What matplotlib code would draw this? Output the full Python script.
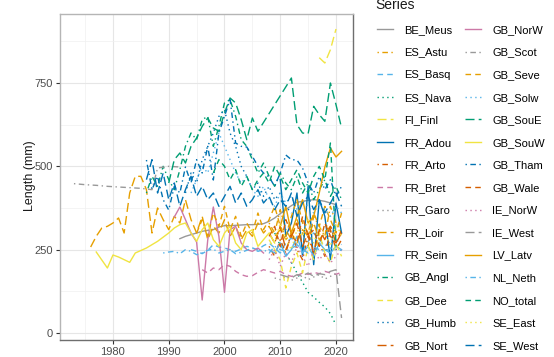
import matplotlib
matplotlib.use('Agg')
import matplotlib.pyplot as plt
from matplotlib.ticker import MultipleLocator

plt.rcParams['font.family'] = ['Liberation Sans', 'DejaVu Sans']

# ---------------- data ----------------
series_names = ['BE_Meus', 'ES_Astu', 'ES_Basq', 'ES_Nava', 'FI_Finl', 'FR_Adou', 'FR_Arto',
                'FR_Bret', 'FR_Garo', 'FR_Loir', 'FR_Sein', 'GB_Angl', 'GB_Dee', 'GB_Humb',
                'GB_Nort', 'GB_NorW', 'GB_Scot', 'GB_Seve', 'GB_Solw', 'GB_SouE', 'GB_SouW',
                'GB_Tham', 'GB_Wale', 'IE_NorW', 'IE_West', 'LV_Latv', 'NL_Neth', 'NO_total',
                'SE_East', 'SE_West']

BE_Meus_years = list(range(1992, 2021))
BE_Meus = [283, 290, 295, 300, 305, 308, 310, 318, 322, 322, 323, 324, 325, 325, 326, 328,
           335, 345, 358, 370, 382, 392, 395, 398, 400, 398, 395, 390, 385]

ES_Astu_years = list(range(2008, 2022))
ES_Astu = [330, 300, 370, 310, 280, 340, 300, 260, 350, 320, 290, 380, 330, 300]

ES_Basq_years = list(range(1994, 2022))
ES_Basq = [250, 245, 238, 248, 265, 258, 255, 250, 245, 252, 260, 255, 250, 262, 270, 255,
           240, 270, 285, 265, 250, 275, 300, 280, 260, 275, 280, 265]

ES_Nava_years = list(range(2009, 2021))
ES_Nava = [300, 262, 238, 212, 180, 152, 122, 108, 92, 78, 58, 24]

FI_Finl_years = [2017, 2018, 2019, 2020]
FI_Finl = [826, 810, 850, 912]

FR_Adou_years = list(range(2010, 2022))
FR_Adou = [460, 290, 330, 420, 230, 440, 205, 400, 350, 220, 390, 300]

FR_Arto_years = list(range(2008, 2022))
FR_Arto = [260, 230, 280, 240, 300, 250, 220, 290, 240, 270, 230, 310, 250, 280]

FR_Bret_years = list(range(1996, 2022))
FR_Bret = [190, 180, 195, 190, 205, 200, 185, 175, 170, 172, 182, 190, 185, 180, 185, 175,
           170, 172, 180, 176, 182, 178, 185, 180, 176, 182]

FR_Garo_years = list(range(2009, 2022))
FR_Garo = [165, 160, 170, 158, 165, 172, 160, 168, 175, 162, 170, 178, 172]

FR_Loir_years = list(range(1976, 2021))
FR_Loir = [258, 290, 315, 320, 330, 345, 300, 420, 470, 470, 430, 300, 375, 340, 310, 350,
           330, 400, 340, 300, 350, 280, 320, 300, 340, 290, 320, 280, 310, 290, 330, 300,
           320, 290, 310, 280, 300, 270, 310, 290, 330, 280, 300, 320, 290]

FR_Sein_years = list(range(2008, 2022))
FR_Sein = [250, 240, 270, 230, 250, 290, 240, 260, 230, 270, 250, 240, 260, 250]

GB_Angl_years = list(range(1986, 2022))
GB_Angl = [420, 470, 440, 500, 460, 430, 490, 560, 600, 580, 640, 650, 560, 620, 690, 700,
           650, 580, 560, 520, 480, 510, 470, 440, 480, 450, 430, 470, 420, 450, 400, 430,
           460, 410, 440, 400]

GB_Dee_years = list(range(2008, 2022))
GB_Dee = [280, 250, 220, 135, 200, 240, 180, 260, 220, 300, 240, 210, 270, 230]

GB_Humb_years = list(range(1993, 2013))
GB_Humb = [420, 480, 450, 520, 560, 600, 650, 670, 600, 560, 500, 470, 430, 450, 410, 440,
           400, 420, 380, 360]

GB_Nort_years = list(range(2008, 2022))
GB_Nort = [300, 270, 320, 250, 290, 330, 260, 300, 240, 310, 280, 320, 270, 300]

GB_NorW_years = list(range(1991, 2008))
GB_NorW = [348, 378, 340, 300, 273, 99, 280, 378, 290, 122, 310, 320, 270, 250, 245, 255, 240]

GB_Scot_years = [1973, 1975, 1977, 1979, 1981, 1983, 1985, 1987, 1988, 1990, 1992]
GB_Scot = [448, 445, 443, 440, 438, 436, 434, 430, 495, 500, 498]

GB_Seve_years = list(range(1995, 2022))
GB_Seve = [300, 340, 290, 360, 320, 380, 310, 350, 290, 330, 300, 360, 310, 340, 380, 320,
           290, 350, 400, 330, 300, 360, 320, 380, 340, 300, 360]

GB_Solw_years = list(range(1994, 2022))
GB_Solw = [420, 460, 500, 480, 540, 600, 560, 520, 480, 450, 470, 430, 410, 440, 400, 380,
           420, 390, 410, 370, 400, 380, 360, 390, 370, 350, 380, 360]

GB_SouE_years = [1990, 1991, 1992, 1993, 1994, 1995, 1996, 1997, 1998, 1999, 2000, 2001,
                 2002, 2003, 2004, 2005, 2006, 2012, 2013, 2014, 2015, 2016, 2017, 2018,
                 2019, 2020, 2021]
GB_SouE = [450, 520, 540, 510, 560, 585, 620, 645, 615, 605, 660, 705, 690, 640, 580, 645,
           605, 765, 625, 600, 598, 680, 655, 635, 750, 685, 615]

GB_SouW_years = [1977, 1979, 1980, 1981, 1983, 1984, 1986, 1988, 1990, 1991, 1992, 1993,
                 1994, 1995, 1996, 1997, 1998, 1999, 2000, 2001, 2002, 2003, 2004, 2005,
                 2006, 2007, 2008, 2009]
GB_SouW = [243, 195, 234, 228, 212, 240, 255, 275, 300, 315, 325, 330, 300, 275, 310, 330,
           280, 260, 300, 320, 270, 250, 300, 310, 260, 280, 300, 270]

GB_Tham_years = list(range(1986, 2022))
GB_Tham = [519, 430, 470, 400, 369, 440, 420, 498, 450, 520, 480, 560, 459, 600, 650, 700,
           570, 560, 558, 530, 500, 480, 468, 440, 480, 534, 520, 519, 495, 450, 420, 470,
           430, 460, 410, 440]

GB_Wale_years = list(range(2008, 2022))
GB_Wale = [290, 320, 260, 340, 300, 270, 350, 290, 310, 260, 330, 290, 270, 310]

IE_NorW_years = list(range(2008, 2022))
IE_NorW = [220, 250, 200, 240, 210, 260, 230, 200, 250, 220, 240, 210, 230, 250]

IE_West_years = list(range(2010, 2022))
IE_West = [175, 170, 165, 175, 172, 180, 170, 178, 175, 185, 190, 45]

LV_Latv_years = list(range(2010, 2022))
LV_Latv = [320, 380, 300, 350, 400, 330, 350, 420, 498, 555, 528, 545]

NL_Neth_years = list(range(1989, 2022))
NL_Neth = [240, 243, 245, 238, 250, 245, 235, 240, 248, 252, 240, 245, 250, 238, 242, 248,
           255, 245, 250, 240, 260, 250, 245, 255, 262, 250, 240, 258, 250, 245, 255, 250, 248]

NO_total_years = list(range(1998, 2021))
NO_total = [480, 520, 500, 460, 490, 440, 470, 430, 460, 480, 450, 500, 470, 430, 460, 490,
            450, 420, 470, 500, 460, 570, 260]

SE_East_years = list(range(2008, 2022))
SE_East = [300, 270, 330, 280, 250, 310, 290, 340, 270, 320, 300, 260, 330, 290]

SE_West_years = list(range(1986, 2022))
SE_West = [460, 520, 420, 480, 400, 450, 380, 430, 470, 410, 440, 400, 420, 380, 410, 440,
           390, 420, 380, 400, 430, 390, 410, 370, 400, 380, 420, 350, 390, 410, 370, 400,
           360, 390, 420, 380]

y_ticks = [0, 250, 500, 750]
x_ticks = [1980, 1990, 2000, 2010, 2020]

# ---------------- styles ----------------
palette = ['#999999', '#E69F00', '#56B4E9', '#009E73', '#F0E442', '#0072B2', '#D55E00', '#CC79A7']
linestyles = ['solid', (0, (1, 2.5, 4, 2.5)), (0, (4, 3)), (0, (1, 2.5)), (0, (6.5, 3))]

fig = plt.figure(figsize=(5.54, 3.57), dpi=100)
ax = fig.add_axes([60 / 554, 1 - 340 / 357, (353 - 60) / 554, (340 - 14) / 357])

g = globals()
handles = []
for i, name in enumerate(series_names):
    xs = g[name + '_years']
    ys = g[name]
    ln, = ax.plot(xs, ys, color=palette[i % 8], linestyle=linestyles[i % 5],
                  linewidth=1.0, label=name)
    handles.append(ln)

ax.set_xlim(1970.5, 2023.05)
ax.set_ylim(-21, 957)
ax.set_xticks(x_ticks)
ax.set_yticks(y_ticks)
ax.xaxis.set_minor_locator(MultipleLocator(5))
ax.yaxis.set_minor_locator(MultipleLocator(125))
ax.grid(which='major', color='#e6e6e6', linewidth=0.8)
ax.grid(which='minor', color='#f0f0f0', linewidth=0.5)
ax.set_axisbelow(True)
ax.tick_params(which='major', length=3, width=0.8, color='#333333', labelsize=8,
               labelcolor='#4d4d4d', pad=2)
ax.tick_params(which='minor', length=0)
for s in ['top', 'left']:
    ax.spines[s].set_color('#b5b5b5')
for s in ['bottom', 'right']:
    ax.spines[s].set_color('#6e6e6e')
for s in ax.spines.values():
    s.set_linewidth(1.0)

fig.text(30 / 554, 1 - 176 / 357, 'Length (mm)', rotation=90, ha='center', va='center',
         fontsize=9, color='#1a1a1a')

leg = fig.legend(handles=handles, labels=series_names, ncol=2, loc='upper left',
                 bbox_to_anchor=(377 / 554, 1 - 25 / 357), frameon=False, fontsize=8,
                 handlelength=1.45, handletextpad=1.0,
                 labelspacing=1.13, columnspacing=0.8, borderpad=0, borderaxespad=0)

fig.text(375 / 554, 1 - 5 / 357, 'Series', ha='left', va='center', fontsize=10,
         color='#1a1a1a')

fig.savefig('out.png', dpi=100)
